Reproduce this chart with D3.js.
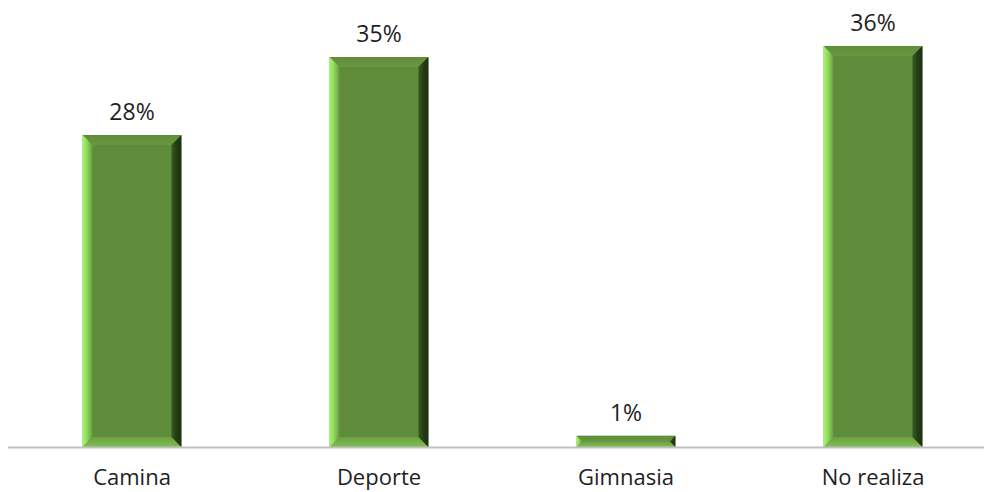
<!DOCTYPE html>
<html>
<head>
<meta charset="utf-8">
<script src="https://cdn.jsdelivr.net/npm/d3@7"></script>
<style>
  html, body { margin: 0; padding: 0; background: #ffffff; }
  svg { display: block; }
  text { font-family: "Open Sans", "Lato", sans-serif; fill: #1e1e1e; }
</style>
</head>
<body>
<svg id="chart" width="984" height="492"></svg>
<script>
// Physical activity share by type
const categories = ["Camina", "Deporte", "Gimnasia", "No realiza"];
const values = [28, 35, 1, 36];
const valueLabels = ["28%", "35%", "1%", "36%"];

const W = 984, H = 492;
const FONT = '"Open Sans", "Lato", sans-serif';
const svg = d3.select("#chart");

const x = d3.scaleBand().domain(categories).range([8.5, 996.5]).paddingInner(0.6).paddingOuter(0.3);
const y = d3.scaleLinear().domain([0, 40]).range([447, 1.4]);

const defs = svg.append("defs");
function lin(id, x1, y1, x2, y2, stops) {
  const g = defs.append("linearGradient").attr("id", id)
    .attr("x1", x1).attr("y1", y1).attr("x2", x2).attr("y2", y2);
  stops.forEach(s => g.append("stop").attr("offset", s[0]).attr("stop-color", s[1]));
}
lin("gLeft", 0, 0, 1, 0, [[0, "#a8f56e"], [0.45, "#8fd85a"], [1, "#66983e"]]);
lin("gRight", 0, 0, 1, 0, [[0, "#3a5c22"], [0.5, "#243d17"], [1, "#1d3012"]]);
lin("gTop", 0, 0, 0, 1, [[0, "#5f8d3a"], [1, "#68973f"]]);
lin("gBot", 0, 0, 0, 1, [[0, "#6aa042"], [1, "#80bd52"]]);

const bw = x.bandwidth();
const bars = svg.append("g").selectAll("g").data(categories).join("g");

bars.each(function(c, i) {
  const g = d3.select(this);
  const x0 = x(c), x1 = x0 + bw;
  const yt = y(values[i]), yb = y(0);
  const h = yb - yt;
  const b = Math.min(10, h / 2);
  // face
  g.append("rect").attr("x", x0).attr("y", yt).attr("width", bw).attr("height", h).attr("fill", "#5e8c3a");
  // top bevel
  g.append("polygon").attr("fill", "url(#gTop)")
    .attr("points", [[x0, yt], [x1, yt], [x1 - b, yt + b], [x0 + b, yt + b]].join(" "));
  // bottom bevel
  g.append("polygon").attr("fill", "url(#gBot)")
    .attr("points", [[x0, yb], [x1, yb], [x1 - b, yb - b], [x0 + b, yb - b]].join(" "));
  // left bevel
  g.append("polygon").attr("fill", "url(#gLeft)")
    .attr("points", [[x0, yt], [x0 + b, yt + b], [x0 + b, yb - b], [x0, yb]].join(" "));
  // right bevel
  g.append("polygon").attr("fill", "url(#gRight)")
    .attr("points", [[x1, yt], [x1 - b, yt + b], [x1 - b, yb - b], [x1, yb]].join(" "));
});

// value labels
svg.append("g").selectAll("text").data(categories).join("text")
  .attr("x", c => x(c) + bw / 2)
  .attr("y", (c, i) => y(values[i]) - 15)
  .attr("text-anchor", "middle")
  .attr("font-size", 23)
  .text((c, i) => valueLabels[i]);

// category axis
const axis = d3.axisBottom(x).tickSize(0).tickPadding(24);
const ag = svg.append("g").attr("transform", `translate(0,${y(0)})`).call(axis);
ag.select(".domain").attr("stroke", "#bfbfbf").attr("stroke-width", 2).attr("d", `M8,0.5H${W}`);
ag.selectAll("text").attr("font-size", 22).attr("fill", "#1e1e1e").attr("dy", 0)
  .attr("dominant-baseline", "auto")
  .style("font-family", FONT);
ag.selectAll(".tick text").attr("y", 485 - y(0));
</script>
</body>
</html>
